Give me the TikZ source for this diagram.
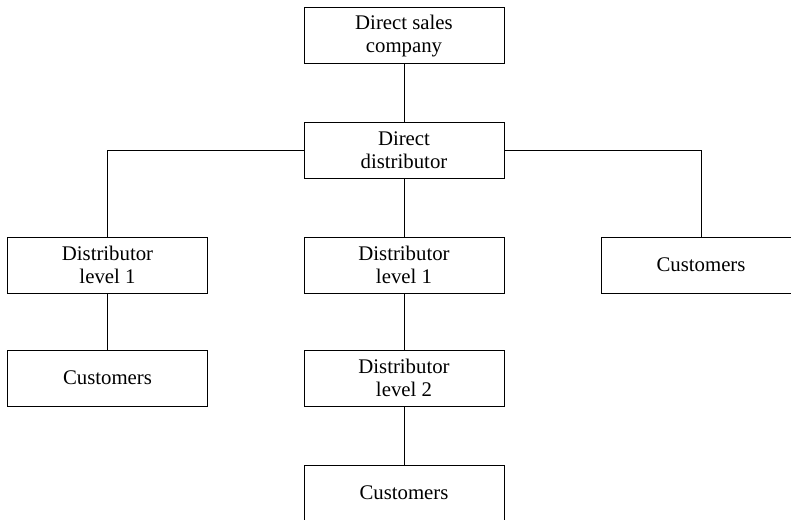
\documentclass[tikz,border=0pt]{standalone}
\usepackage{fontspec}
\setmainfont{Liberation Serif}
\begin{document}
\begin{tikzpicture}[x=0.5pt, y=-0.5pt, line width=0.5pt,
    orgbox/.style={draw, minimum width=100pt, minimum height=28pt,
      align=center, inner sep=0pt,
      font=\fontsize{10.4pt}{11.5pt}\selectfont}]
  % Bounding box of the picture
  \useasboundingbox (0,0) rectangle (791,519);
  % Boxes
  \node[orgbox] (company)  at (404, 36)  {Direct sales\\company};
  \node[orgbox] (direct)   at (404,150)  {Direct\\distributor};
  \node[orgbox] (leftone)  at (107.5,265) {Distributor\\level 1};
  \node[orgbox] (midone)   at (404,265)  {Distributor\\level 1};
  \node[orgbox] (rightcus) at (701,265)  {Customers};
  \node[orgbox] (leftcus)  at (107.5,378) {Customers};
  \node[orgbox] (midtwo)   at (404,378)  {Distributor\\level 2};
  \node[orgbox] (midcus)   at (404,493)  {Customers};
  % Connectors
  \draw (company) -- (direct);
  \draw (direct.west) -| (leftone.north);
  \draw (direct.east) -| (rightcus.north);
  \draw (direct) -- (midone);
  \draw (leftone) -- (leftcus);
  \draw (midone) -- (midtwo);
  \draw (midtwo) -- (midcus);
\end{tikzpicture}
\end{document}
